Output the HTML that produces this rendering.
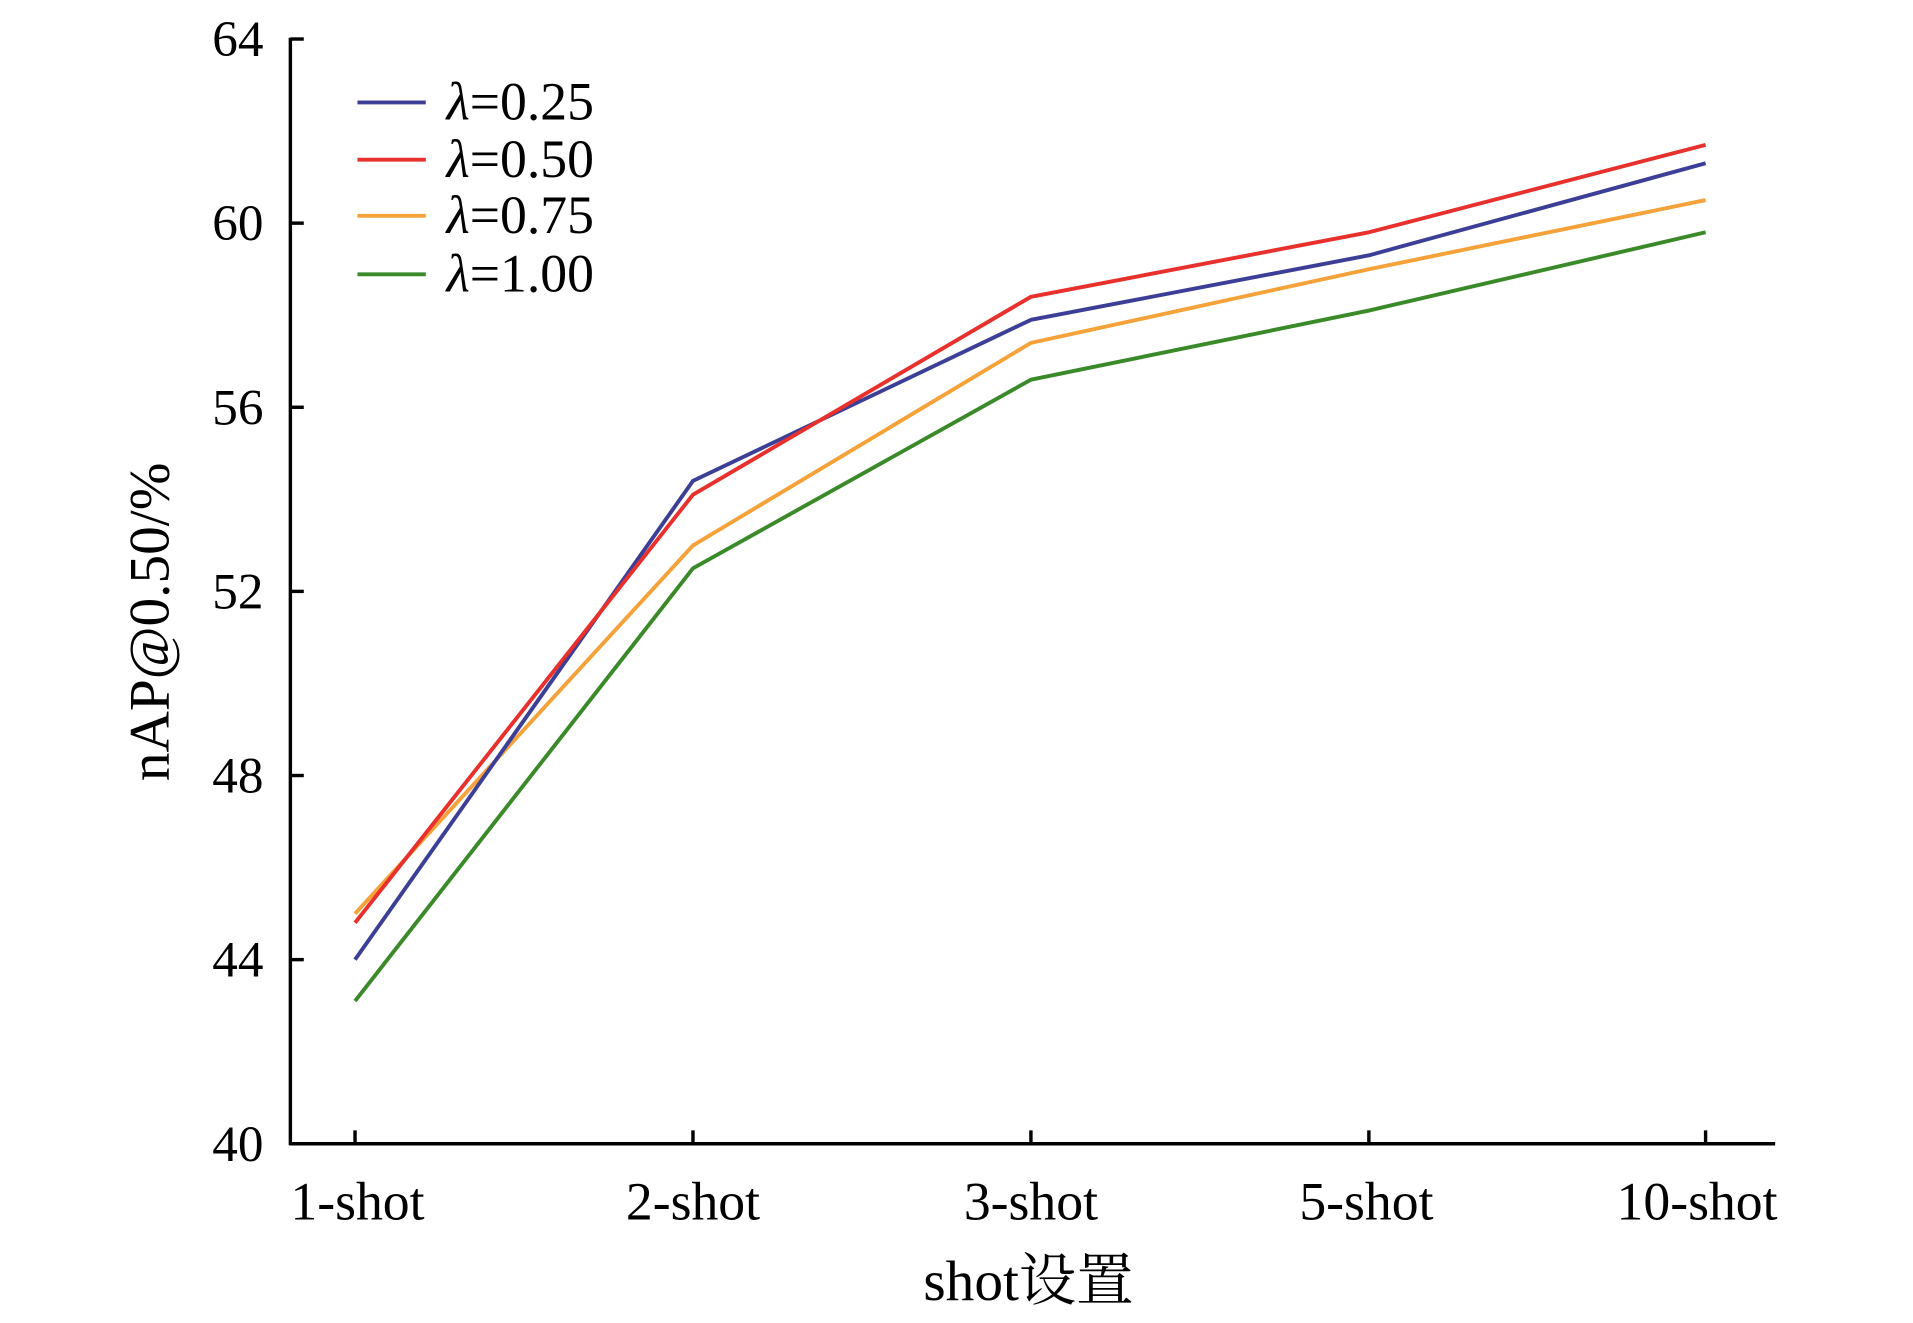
<!DOCTYPE html>
<html><head><meta charset="utf-8"><style>html,body{margin:0;padding:0;background:#fff}svg{display:block}</style></head>
<body>
<svg width="1913" height="1323" viewBox="-1 0 1568 1085" preserveAspectRatio="none" xmlns="http://www.w3.org/2000/svg">
<g stroke="#000" stroke-width="2.8" fill="none">
<line x1="237" y1="31" x2="237" y2="939"/>
<line x1="236" y1="938" x2="1454" y2="938"/>
<line x1="237" y1="32" x2="248" y2="32"/>
<line x1="237" y1="183" x2="248" y2="183"/>
<line x1="237" y1="334" x2="248" y2="334"/>
<line x1="237" y1="485" x2="248" y2="485"/>
<line x1="237" y1="636" x2="248" y2="636"/>
<line x1="237" y1="787" x2="248" y2="787"/>
<line x1="290" y1="938" x2="290" y2="927"/>
<line x1="567" y1="938" x2="567" y2="927"/>
<line x1="844" y1="938" x2="844" y2="927"/>
<line x1="1121" y1="938" x2="1121" y2="927"/>
<line x1="1397" y1="938" x2="1397" y2="927"/>
</g>
<g font-family="Liberation Serif, serif" font-size="42" fill="#000" text-anchor="end">
<text x="215" y="46">64</text><text x="215" y="197">60</text><text x="215" y="348">56</text>
<text x="215" y="499">52</text><text x="215" y="650">48</text><text x="215" y="801">44</text><text x="215" y="952">40</text>
</g>
<g font-family="Liberation Serif, serif" font-size="44" fill="#000" text-anchor="middle">
<text x="292" y="1000">1-shot</text><text x="567" y="1000">2-shot</text><text x="844" y="1000">3-shot</text>
<text x="1119" y="1000">5-shot</text><text x="1390" y="1000">10-shot</text>
<text x="842" y="1066" font-size="47" font-family="Liberation Serif, 'Noto Serif CJK SC', serif">shot设置</text>
<text transform="translate(137,510) rotate(-90)" font-size="47">nAP@0.50/%</text>
</g>
<g fill="none" stroke-width="3.2" stroke-linejoin="round">
<polyline stroke="#3a8a2a" points="290,821 567,466.1 844,311.4 1121,254.7 1397,190.5"/>
<polyline stroke="#f5a23a" points="290,749.3 567,447.3 844,281.2 1121,220.8 1397,164.1"/>
<polyline stroke="#3c3f96" points="290,787 567,394.4 844,262.3 1121,209.4 1397,133.9"/>
<polyline stroke="#e8302c" points="290,756.8 567,405.7 844,243.4 1121,190.5 1397,118.8"/>
<line stroke="#3c3f96" x1="292" y1="84" x2="348" y2="84"/>
<line stroke="#e8302c" x1="292" y1="131" x2="348" y2="131"/>
<line stroke="#f5a23a" x1="292" y1="177" x2="348" y2="177"/>
<line stroke="#3a8a2a" x1="292" y1="225" x2="348" y2="225"/>
</g>
<g font-family="Liberation Serif, serif" font-size="44" fill="#000">
<text x="365" y="98"><tspan font-style="italic">λ</tspan>=0.25</text>
<text x="365" y="145"><tspan font-style="italic">λ</tspan>=0.50</text>
<text x="365" y="191"><tspan font-style="italic">λ</tspan>=0.75</text>
<text x="365" y="239"><tspan font-style="italic">λ</tspan>=1.00</text>
</g>
</svg>
</body></html>
